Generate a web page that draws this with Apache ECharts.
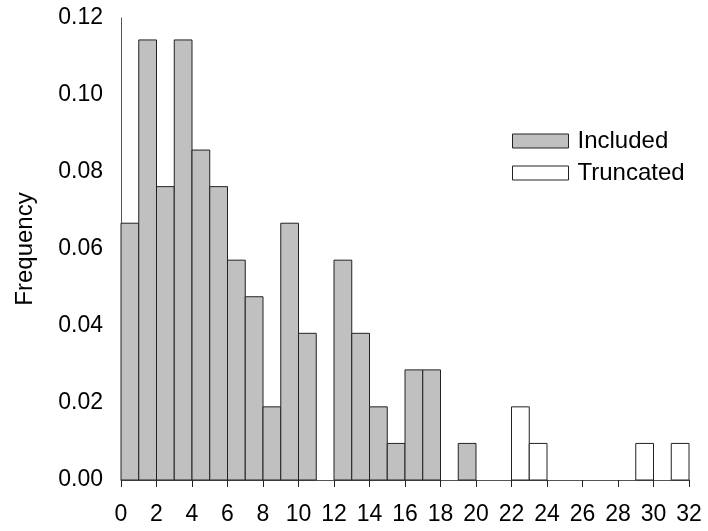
<!DOCTYPE html>
<html>
<head>
<meta charset="utf-8">
<script src="https://cdn.jsdelivr.net/npm/echarts@6/dist/echarts.min.js"></script>
<style>html,body{margin:0;padding:0;background:#fff}#c{width:708px;height:531px}</style>
</head>
<body>
<div id="c"></div>
<script>
// Bin width 1, bins start at 0
const includedStart = 0;
const includedFreq = [0.0667, 0.1143, 0.0762, 0.1143, 0.0857, 0.0762, 0.0571, 0.0476, 0.0190, 0.0667,
                      0.0381, 0, 0.0571, 0.0381, 0.0190, 0.0095, 0.0286, 0.0286, 0, 0.0095];
const truncatedStart = 20;
const truncatedFreq = [0, 0, 0.0190, 0.0095, 0, 0, 0, 0, 0, 0.0095, 0, 0.0095];
const xTicks = [0, 2, 4, 6, 8, 10, 12, 14, 16, 18, 20, 22, 24, 26, 28, 30, 32];
const yTicks = [0, 0.02, 0.04, 0.06, 0.08, 0.10, 0.12];
const seriesNames = ['Included', 'Truncated'];

function toBins(start, freq) {
  const out = [];
  freq.forEach((f, i) => { if (f > 0) out.push([start + i, start + i + 1, f]); });
  return out;
}

const FONT = 'Liberation Sans, Arial, sans-serif';

function renderBar(params, api) {
  const p0 = api.coord([api.value(0), api.value(2)]);
  const p1 = api.coord([api.value(1), 0]);
  return {
    type: 'rect',
    shape: { x: p0[0], y: p0[1], width: p1[0] - p0[0], height: p1[1] - p0[1] },
    style: api.style()
  };
}

const chart = echarts.init(document.getElementById('c'), null, { renderer: 'canvas' });
chart.setOption({
  animation: false,
  backgroundColor: '#fff',
  grid: { left: 121, right: 19, top: 18, bottom: 51, containLabel: false },
  legend: {
    orient: 'vertical',
    left: 507,
    top: 124,
    itemWidth: 56,
    itemHeight: 14,
    itemGap: 8,
    icon: 'rect',
    textStyle: { fontFamily: FONT, fontSize: 24, color: '#000', padding: [0, 0, 0, 4] },
    data: [
      { name: seriesNames[0], itemStyle: { color: '#c0c0c0', borderColor: '#222', borderWidth: 1 } },
      { name: seriesNames[1], itemStyle: { color: '#fff', borderColor: '#222', borderWidth: 1 } }
    ]
  },
  xAxis: {
    type: 'value',
    min: xTicks[0],
    max: xTicks[xTicks.length - 1],
    interval: 2,
    splitLine: { show: false },
    axisLine: { show: true, onZero: false, lineStyle: { color: '#555', width: 1 } },
    axisTick: { show: true, length: 7, lineStyle: { color: '#222', width: 1 } },
    axisLabel: { fontFamily: FONT, fontSize: 23, color: '#000', margin: 23 }
  },
  yAxis: {
    type: 'value',
    min: yTicks[0],
    max: yTicks[yTicks.length - 1],
    interval: 0.02,
    offset: 4,
    name: 'Frequency',
    nameLocation: 'middle',
    nameGap: 80,
    nameTextStyle: { fontFamily: FONT, fontSize: 24, color: '#000' },
    splitLine: { show: false },
    axisLine: { show: true, lineStyle: { color: '#555', width: 1 } },
    axisTick: { show: false },
    axisLabel: { fontFamily: FONT, fontSize: 23, color: '#000', margin: 14,
                 formatter: v => v.toFixed(2) }
  },
  series: [
    {
      name: seriesNames[0],
      type: 'custom',
      renderItem: renderBar,
      encode: { x: [0, 1], y: 2 },
      itemStyle: { color: '#c0c0c0', borderColor: '#222', borderWidth: 1 },
      data: toBins(includedStart, includedFreq)
    },
    {
      name: seriesNames[1],
      type: 'custom',
      renderItem: renderBar,
      encode: { x: [0, 1], y: 2 },
      itemStyle: { color: '#fff', borderColor: '#222', borderWidth: 1 },
      data: toBins(truncatedStart, truncatedFreq)
    }
  ]
});
</script>
</body>
</html>
